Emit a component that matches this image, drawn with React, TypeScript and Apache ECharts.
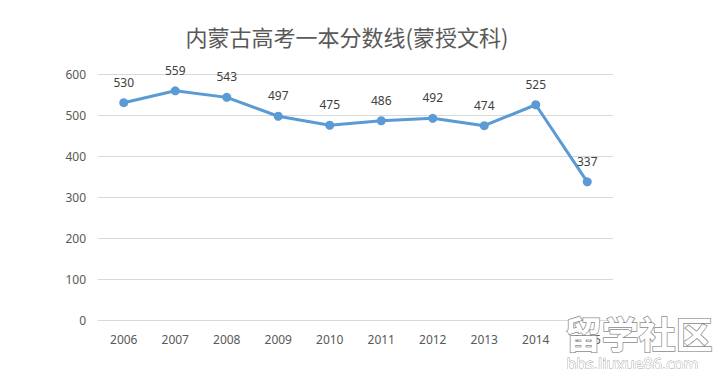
import React, { useEffect, useRef } from "react";
import * as echarts from "echarts";

const titleText = "内蒙古高考一本分数线(蒙授文科)";
const years = ["2006", "2007", "2008", "2009", "2010", "2011", "2012", "2013", "2014", "2015"];
const scores = [530, 559, 543, 497, 475, 486, 492, 474, 525, 337];
const watermarkMain = "留学社区";
const watermarkSub = "bbs.liuxue86.com";

export default function App() {
  const ref = useRef<HTMLDivElement>(null);
  useEffect(() => {
    if (!ref.current) return;
    const chart = echarts.init(ref.current, null, { renderer: "svg" });
    chart.setOption({
      animation: false,
      backgroundColor: "#ffffff",
      title: {
        text: titleText,
        left: 342,
        textAlign: "center",
        top: 20,
        textStyle: {
          fontFamily: "Noto Sans CJK SC",
          fontSize: 22,
          fontWeight: "normal",
          color: "#595959",
        },
      },
      grid: { left: 98, right: 109, top: 74, bottom: 57, containLabel: false },
      xAxis: {
        type: "category",
        data: years,
        boundaryGap: true,
        axisLine: { show: true, lineStyle: { color: "#d9d9d9", width: 1 } },
        axisTick: { show: false },
        axisLabel: { color: "#595959", fontSize: 12, margin: 13, fontFamily: "Noto Sans" },
      },
      yAxis: {
        type: "value",
        min: 0,
        max: 600,
        interval: 100,
        axisLine: { show: false },
        axisTick: { show: false },
        axisLabel: { color: "#595959", fontSize: 12, margin: 12, fontFamily: "Noto Sans" },
        splitLine: { lineStyle: { color: "#d9d9d9", width: 1 } },
      },
      series: [
        {
          type: "line",
          data: scores,
          symbol: "circle",
          symbolSize: 9,
          lineStyle: { color: "#5b9bd5", width: 3 },
          itemStyle: { color: "#5b9bd5" },
          label: {
            show: true,
            position: "top",
            distance: 10,
            color: "#404040",
            fontSize: 12,
            fontFamily: "Noto Sans",
          },
        },
      ],
      graphic: [
        {
          type: "text",
          left: 564,
          top: 314,
          z: 100,
          style: {
            text: watermarkMain,
            fontSize: 37,
            fontWeight: "bold",
            fontFamily: "Noto Sans CJK SC",
            fill: "#ffffff",
            stroke: "#8c8c8c",
            lineWidth: 1.5,
          },
        },
        {
          type: "text",
          left: 566,
          top: 356,
          z: 100,
          style: {
            text: watermarkSub,
            fontSize: 16,
            fontFamily: "Noto Sans",
            fill: "#ffffff",
            stroke: "#9a9a9a",
            lineWidth: 0.8,
          },
        },
      ],
    });
    return () => chart.dispose();
  }, []);
  return <div ref={ref} style={{ width: 722, height: 377, margin: -8 }} />;
}
